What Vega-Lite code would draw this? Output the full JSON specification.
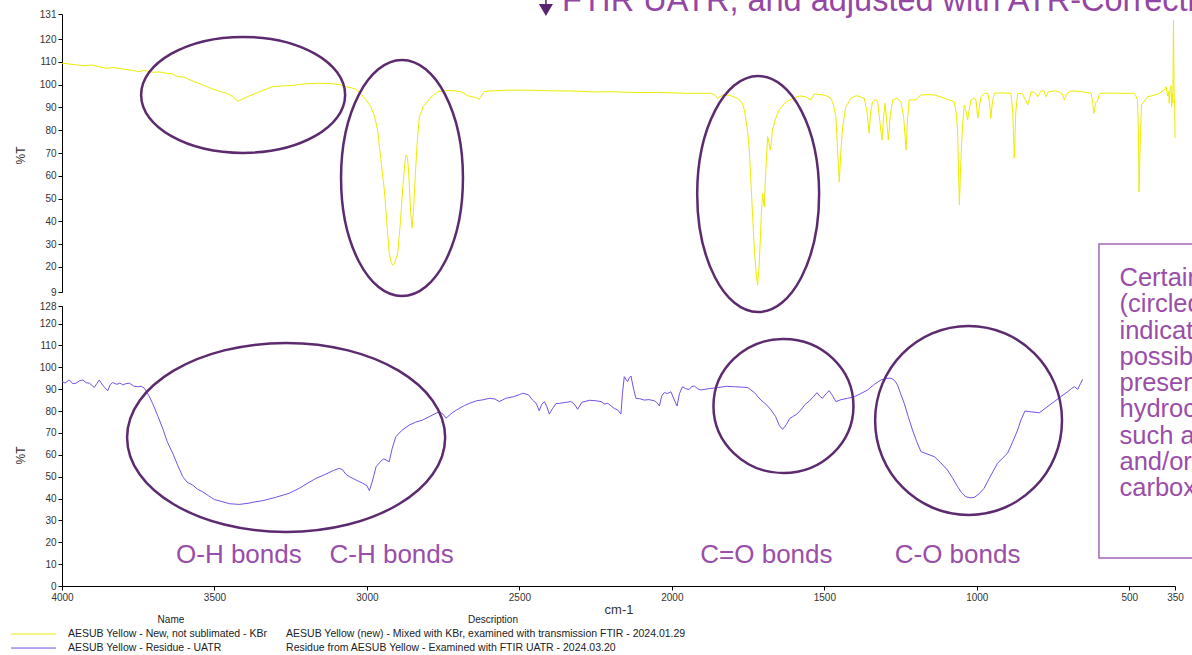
{
  "$schema": "https://vega.github.io/schema/vega-lite/v6.json",
  "padding": {"left": 10, "top": -31, "right": 0, "bottom": 0},
  "bounds": "flush",
  "spacing": 14,
  "config": {
    "font": "Liberation Sans",
    "view": {"stroke": null},
    "axis": {"domainColor": "#000", "tickColor": "#000", "labelColor": "#333", "labelFontSize": 10, "titleColor": "#333", "titleFontWeight": "normal", "grid": false, "tickSize": 4, "labelPadding": 2, "labelOverlap": false}
  },
  "datasets": {
    "spectra": [
      {"series":"new","wn":4000,"T":109.4},{"series":"new","wn":3960,"T":108.8},{"series":"new","wn":3930,"T":108.3},{"series":"new","wn":3900,"T":108.6},{"series":"new","wn":3870,"T":107.6},{"series":"new","wn":3856,"T":107.2},{"series":"new","wn":3830,"T":107.5},{"series":"new","wn":3800,"T":106.8},{"series":"new","wn":3770,"T":106.3},{"series":"new","wn":3748,"T":105.7},{"series":"new","wn":3730,"T":106.2},{"series":"new","wn":3700,"T":105.4},{"series":"new","wn":3680,"T":105.6},{"series":"new","wn":3659,"T":105.0},{"series":"new","wn":3640,"T":104.8},{"series":"new","wn":3620,"T":103.5},{"series":"new","wn":3600,"T":103.3},{"series":"new","wn":3584,"T":102.3},{"series":"new","wn":3560,"T":101.0},{"series":"new","wn":3540,"T":100.0},{"series":"new","wn":3520,"T":98.8},{"series":"new","wn":3505,"T":98.0},{"series":"new","wn":3480,"T":97.0},{"series":"new","wn":3460,"T":96.2},{"series":"new","wn":3440,"T":94.8},{"series":"new","wn":3424,"T":92.8},{"series":"new","wn":3410,"T":93.5},{"series":"new","wn":3390,"T":94.8},{"series":"new","wn":3364,"T":96.2},{"series":"new","wn":3340,"T":97.5},{"series":"new","wn":3309,"T":99.1},{"series":"new","wn":3280,"T":99.4},{"series":"new","wn":3250,"T":99.6},{"series":"new","wn":3200,"T":100.4},{"series":"new","wn":3157,"T":100.6},{"series":"new","wn":3120,"T":100.5},{"series":"new","wn":3090,"T":100.0},{"series":"new","wn":3069,"T":99.1},{"series":"new","wn":3040,"T":98.2},{"series":"new","wn":3026,"T":96.9},{"series":"new","wn":3005,"T":93.5},{"series":"new","wn":2987,"T":90.3},{"series":"new","wn":2975,"T":86},{"series":"new","wn":2965,"T":80.1},{"series":"new","wn":2955,"T":68},{"series":"new","wn":2943,"T":53.8},{"series":"new","wn":2935,"T":40},{"series":"new","wn":2927,"T":26},{"series":"new","wn":2920,"T":22},{"series":"new","wn":2916,"T":20.8},{"series":"new","wn":2910,"T":21.5},{"series":"new","wn":2899,"T":26},{"series":"new","wn":2890,"T":40},{"series":"new","wn":2883,"T":53.8},{"series":"new","wn":2876,"T":65},{"series":"new","wn":2872,"T":69.1},{"series":"new","wn":2867,"T":68},{"series":"new","wn":2863,"T":61.2},{"series":"new","wn":2857,"T":45},{"series":"new","wn":2852,"T":37},{"series":"new","wn":2847,"T":45},{"series":"new","wn":2841,"T":61.1},{"series":"new","wn":2835,"T":75},{"series":"new","wn":2828,"T":85.9},{"series":"new","wn":2815,"T":90.5},{"series":"new","wn":2806,"T":91.8},{"series":"new","wn":2790,"T":94.5},{"series":"new","wn":2774,"T":96.2},{"series":"new","wn":2768,"T":96.9},{"series":"new","wn":2740,"T":97.4},{"series":"new","wn":2714,"T":97.3},{"series":"new","wn":2690,"T":96.8},{"series":"new","wn":2670,"T":95.2},{"series":"new","wn":2659,"T":94.7},{"series":"new","wn":2645,"T":94.5},{"series":"new","wn":2632,"T":93.6},{"series":"new","wn":2616,"T":96.9},{"series":"new","wn":2600,"T":97.2},{"series":"new","wn":2528,"T":97.6},{"series":"new","wn":2450,"T":97.5},{"series":"new","wn":2400,"T":97.3},{"series":"new","wn":2331,"T":97.2},{"series":"new","wn":2250,"T":96.8},{"series":"new","wn":2200,"T":96.9},{"series":"new","wn":2112,"T":96.5},{"series":"new","wn":2050,"T":96.6},{"series":"new","wn":1950,"T":96.2},{"series":"new","wn":1872,"T":96.2},{"series":"new","wn":1860,"T":95.5},{"series":"new","wn":1850,"T":94.0},{"series":"new","wn":1833,"T":95.5},{"series":"new","wn":1810,"T":95.3},{"series":"new","wn":1784,"T":94.0},{"series":"new","wn":1770,"T":92},{"series":"new","wn":1762,"T":88.9},{"series":"new","wn":1752,"T":80},{"series":"new","wn":1746,"T":71.3},{"series":"new","wn":1738,"T":50},{"series":"new","wn":1730,"T":28.9},{"series":"new","wn":1724,"T":18},{"series":"new","wn":1719,"T":12},{"series":"new","wn":1714,"T":20},{"series":"new","wn":1710,"T":31.8},{"series":"new","wn":1706,"T":45},{"series":"new","wn":1702,"T":52.3},{"series":"new","wn":1697,"T":46.4},{"series":"new","wn":1692,"T":62},{"series":"new","wn":1686,"T":77.2},{"series":"new","wn":1681,"T":74},{"series":"new","wn":1677,"T":71.3},{"series":"new","wn":1673,"T":76},{"series":"new","wn":1670,"T":80.1},{"series":"new","wn":1660,"T":85},{"series":"new","wn":1648,"T":88.9},{"series":"new","wn":1630,"T":92},{"series":"new","wn":1609,"T":93.6},{"series":"new","wn":1590,"T":94.8},{"series":"new","wn":1577,"T":95.0},{"series":"new","wn":1560,"T":94.6},{"series":"new","wn":1544,"T":93.3},{"series":"new","wn":1533,"T":95.9},{"series":"new","wn":1510,"T":95.6},{"series":"new","wn":1495,"T":95.2},{"series":"new","wn":1478,"T":94.0},{"series":"new","wn":1470,"T":91},{"series":"new","wn":1462,"T":85.9},{"series":"new","wn":1456,"T":70},{"series":"new","wn":1451,"T":57.4},{"series":"new","wn":1446,"T":70},{"series":"new","wn":1440,"T":81.5},{"series":"new","wn":1430,"T":90},{"series":"new","wn":1413,"T":94.0},{"series":"new","wn":1395,"T":95.2},{"series":"new","wn":1380,"T":94.5},{"series":"new","wn":1369,"T":94.0},{"series":"new","wn":1360,"T":88},{"series":"new","wn":1353,"T":78.6},{"series":"new","wn":1348,"T":88},{"series":"new","wn":1342,"T":92.5},{"series":"new","wn":1330,"T":93.5},{"series":"new","wn":1325,"T":92.5},{"series":"new","wn":1318,"T":84},{"series":"new","wn":1311,"T":75.7},{"series":"new","wn":1306,"T":85},{"series":"new","wn":1301,"T":91.8},{"series":"new","wn":1296,"T":85},{"series":"new","wn":1290,"T":75.7},{"series":"new","wn":1284,"T":86},{"series":"new","wn":1276,"T":93.3},{"series":"new","wn":1262,"T":94.0},{"series":"new","wn":1249,"T":92.5},{"series":"new","wn":1240,"T":86},{"series":"new","wn":1232,"T":71.3},{"series":"new","wn":1227,"T":85},{"series":"new","wn":1222,"T":93.3},{"series":"new","wn":1200,"T":93.3},{"series":"new","wn":1183,"T":95.5},{"series":"new","wn":1160,"T":95.6},{"series":"new","wn":1139,"T":95.5},{"series":"new","wn":1110,"T":94.2},{"series":"new","wn":1090,"T":93.2},{"series":"new","wn":1074,"T":92.5},{"series":"new","wn":1068,"T":88},{"series":"new","wn":1063,"T":80.1},{"series":"new","wn":1060,"T":62},{"series":"new","wn":1057,"T":47.2},{"series":"new","wn":1054,"T":60},{"series":"new","wn":1050,"T":74.3},{"series":"new","wn":1045,"T":85},{"series":"new","wn":1041,"T":91.1},{"series":"new","wn":1035,"T":88},{"series":"new","wn":1030,"T":84.5},{"series":"new","wn":1025,"T":89},{"series":"new","wn":1019,"T":93.3},{"series":"new","wn":1010,"T":94.0},{"series":"new","wn":1003,"T":93.5},{"series":"new","wn":999,"T":88},{"series":"new","wn":997,"T":85.2},{"series":"new","wn":993,"T":89},{"series":"new","wn":986,"T":94.7},{"series":"new","wn":975,"T":96.2},{"series":"new","wn":964,"T":96.2},{"series":"new","wn":958,"T":92},{"series":"new","wn":954,"T":85.2},{"series":"new","wn":949,"T":92},{"series":"new","wn":943,"T":96.2},{"series":"new","wn":920,"T":96.4},{"series":"new","wn":888,"T":96.2},{"series":"new","wn":882,"T":88},{"series":"new","wn":877,"T":67.7},{"series":"new","wn":872,"T":88},{"series":"new","wn":866,"T":96.2},{"series":"new","wn":850,"T":96.0},{"series":"new","wn":840,"T":93},{"series":"new","wn":833,"T":91.1},{"series":"new","wn":827,"T":94},{"series":"new","wn":822,"T":96.9},{"series":"new","wn":810,"T":96.5},{"series":"new","wn":800,"T":94.7},{"series":"new","wn":795,"T":96},{"series":"new","wn":789,"T":97.3},{"series":"new","wn":780,"T":97.2},{"series":"new","wn":773,"T":94.7},{"series":"new","wn":765,"T":96.8},{"series":"new","wn":746,"T":97.3},{"series":"new","wn":730,"T":96.8},{"series":"new","wn":720,"T":96.0},{"series":"new","wn":713,"T":93.3},{"series":"new","wn":705,"T":96},{"series":"new","wn":691,"T":97.3},{"series":"new","wn":660,"T":97.0},{"series":"new","wn":625,"T":96.2},{"series":"new","wn":620,"T":92},{"series":"new","wn":616,"T":87.4},{"series":"new","wn":610,"T":92},{"series":"new","wn":603,"T":93.3},{"series":"new","wn":598,"T":95.8},{"series":"new","wn":593,"T":96.2},{"series":"new","wn":560,"T":96.3},{"series":"new","wn":520,"T":96.2},{"series":"new","wn":484,"T":96.2},{"series":"new","wn":478,"T":95},{"series":"new","wn":473,"T":93.3},{"series":"new","wn":470,"T":80},{"series":"new","wn":468,"T":53},{"series":"new","wn":465,"T":70},{"series":"new","wn":460,"T":91.1},{"series":"new","wn":450,"T":92.8},{"series":"new","wn":440,"T":94.7},{"series":"new","wn":420,"T":95.3},{"series":"new","wn":400,"T":96.2},{"series":"new","wn":396,"T":96.9},{"series":"new","wn":385,"T":97.6},{"series":"new","wn":379,"T":99.1},{"series":"new","wn":374,"T":95},{"series":"new","wn":371,"T":97},{"series":"new","wn":369,"T":91.8},{"series":"new","wn":366,"T":98},{"series":"new","wn":363,"T":99.5},{"series":"new","wn":361,"T":90.3},{"series":"new","wn":359,"T":96},{"series":"new","wn":357,"T":92},{"series":"new","wn":355,"T":128.4},{"series":"new","wn":353,"T":96},{"series":"new","wn":351,"T":90},{"series":"new","wn":350,"T":76.6},
      {"series":"residue","wn":4000,"T":93.4},{"series":"residue","wn":3990,"T":92.8},{"series":"residue","wn":3976,"T":94.2},{"series":"residue","wn":3965,"T":92.5},{"series":"residue","wn":3954,"T":92.7},{"series":"residue","wn":3943,"T":93.8},{"series":"residue","wn":3932,"T":94.2},{"series":"residue","wn":3920,"T":92.9},{"series":"residue","wn":3910,"T":92.7},{"series":"residue","wn":3900,"T":91.5},{"series":"residue","wn":3894,"T":90.8},{"series":"residue","wn":3886,"T":92.5},{"series":"residue","wn":3878,"T":94.2},{"series":"residue","wn":3865,"T":91.5},{"series":"residue","wn":3850,"T":89.3},{"series":"residue","wn":3842,"T":92.0},{"series":"residue","wn":3834,"T":93.0},{"series":"residue","wn":3820,"T":92.2},{"series":"residue","wn":3810,"T":92.8},{"series":"residue","wn":3801,"T":91.9},{"series":"residue","wn":3790,"T":92.5},{"series":"residue","wn":3779,"T":92.7},{"series":"residue","wn":3765,"T":91.4},{"series":"residue","wn":3752,"T":91.1},{"series":"residue","wn":3740,"T":91.3},{"series":"residue","wn":3730,"T":90.4},{"series":"residue","wn":3715,"T":87},{"series":"residue","wn":3703,"T":83.5},{"series":"residue","wn":3685,"T":77.5},{"series":"residue","wn":3670,"T":72.1},{"series":"residue","wn":3655,"T":66},{"series":"residue","wn":3637,"T":60.7},{"series":"residue","wn":3620,"T":55},{"series":"residue","wn":3604,"T":50},{"series":"residue","wn":3590,"T":47.5},{"series":"residue","wn":3570,"T":46},{"series":"residue","wn":3555,"T":44.2},{"series":"residue","wn":3539,"T":43.1},{"series":"residue","wn":3520,"T":41.3},{"series":"residue","wn":3500,"T":39.5},{"series":"residue","wn":3473,"T":38.5},{"series":"residue","wn":3450,"T":37.6},{"series":"residue","wn":3419,"T":37.3},{"series":"residue","wn":3390,"T":37.8},{"series":"residue","wn":3370,"T":38.4},{"series":"residue","wn":3342,"T":39.0},{"series":"residue","wn":3300,"T":40.5},{"series":"residue","wn":3255,"T":42.4},{"series":"residue","wn":3220,"T":44.8},{"series":"residue","wn":3190,"T":47.4},{"series":"residue","wn":3167,"T":49.2},{"series":"residue","wn":3140,"T":50.8},{"series":"residue","wn":3110,"T":52.8},{"series":"residue","wn":3091,"T":53.8},{"series":"residue","wn":3080,"T":53.2},{"series":"residue","wn":3070,"T":51.2},{"series":"residue","wn":3058,"T":50.0},{"series":"residue","wn":3035,"T":48.4},{"series":"residue","wn":3014,"T":47.0},{"series":"residue","wn":3000,"T":45.8},{"series":"residue","wn":2992,"T":43.6},{"series":"residue","wn":2983,"T":47.5},{"series":"residue","wn":2970,"T":54.5},{"series":"residue","wn":2955,"T":57.0},{"series":"residue","wn":2945,"T":58.1},{"series":"residue","wn":2937,"T":57.6},{"series":"residue","wn":2927,"T":56.8},{"series":"residue","wn":2917,"T":63},{"series":"residue","wn":2905,"T":68.3},{"series":"residue","wn":2885,"T":71.2},{"series":"residue","wn":2861,"T":73.6},{"series":"residue","wn":2840,"T":74.9},{"series":"residue","wn":2817,"T":75.9},{"series":"residue","wn":2790,"T":77.8},{"series":"residue","wn":2763,"T":79.7},{"series":"residue","wn":2750,"T":78.5},{"series":"residue","wn":2741,"T":76.7},{"series":"residue","wn":2720,"T":79.2},{"series":"residue","wn":2700,"T":81},{"series":"residue","wn":2680,"T":82.5},{"series":"residue","wn":2664,"T":83.5},{"series":"residue","wn":2640,"T":84.7},{"series":"residue","wn":2620,"T":85.1},{"series":"residue","wn":2599,"T":85.8},{"series":"residue","wn":2580,"T":85.5},{"series":"residue","wn":2566,"T":84.3},{"series":"residue","wn":2545,"T":85.8},{"series":"residue","wn":2520,"T":86.5},{"series":"residue","wn":2500,"T":87.5},{"series":"residue","wn":2489,"T":88.1},{"series":"residue","wn":2470,"T":87.4},{"series":"residue","wn":2457,"T":85.0},{"series":"residue","wn":2445,"T":83.5},{"series":"residue","wn":2435,"T":80.1},{"series":"residue","wn":2427,"T":83},{"series":"residue","wn":2418,"T":84.3},{"series":"residue","wn":2410,"T":82},{"series":"residue","wn":2402,"T":78.6},{"series":"residue","wn":2392,"T":81},{"series":"residue","wn":2380,"T":83.4},{"series":"residue","wn":2369,"T":83.5},{"series":"residue","wn":2350,"T":83.9},{"series":"residue","wn":2331,"T":84.3},{"series":"residue","wn":2320,"T":83.2},{"series":"residue","wn":2309,"T":80.8},{"series":"residue","wn":2295,"T":84},{"series":"residue","wn":2270,"T":84.9},{"series":"residue","wn":2250,"T":84.7},{"series":"residue","wn":2232,"T":84.3},{"series":"residue","wn":2221,"T":83.2},{"series":"residue","wn":2210,"T":83.5},{"series":"residue","wn":2200,"T":82.4},{"series":"residue","wn":2189,"T":81.2},{"series":"residue","wn":2178,"T":80.5},{"series":"residue","wn":2167,"T":78.6},{"series":"residue","wn":2162,"T":88},{"series":"residue","wn":2156,"T":95.7},{"series":"residue","wn":2150,"T":94.3},{"series":"residue","wn":2145,"T":93.4},{"series":"residue","wn":2140,"T":95.2},{"series":"residue","wn":2134,"T":96.0},{"series":"residue","wn":2127,"T":91},{"series":"residue","wn":2118,"T":85.8},{"series":"residue","wn":2105,"T":85.6},{"series":"residue","wn":2091,"T":85.0},{"series":"residue","wn":2075,"T":85.2},{"series":"residue","wn":2058,"T":84.7},{"series":"residue","wn":2050,"T":84},{"series":"residue","wn":2041,"T":82.3},{"series":"residue","wn":2033,"T":87},{"series":"residue","wn":2025,"T":88.4},{"series":"residue","wn":2014,"T":88.0},{"series":"residue","wn":2003,"T":88.8},{"series":"residue","wn":1995,"T":86},{"series":"residue","wn":1983,"T":82.3},{"series":"residue","wn":1975,"T":88},{"series":"residue","wn":1965,"T":91.1},{"series":"residue","wn":1955,"T":90.2},{"series":"residue","wn":1943,"T":89.9},{"series":"residue","wn":1935,"T":91.2},{"series":"residue","wn":1926,"T":91.4},{"series":"residue","wn":1915,"T":90.1},{"series":"residue","wn":1904,"T":89.6},{"series":"residue","wn":1880,"T":90.2},{"series":"residue","wn":1850,"T":90.7},{"series":"residue","wn":1820,"T":91.3},{"series":"residue","wn":1795,"T":91.1},{"series":"residue","wn":1770,"T":90.9},{"series":"residue","wn":1751,"T":90.7},{"series":"residue","wn":1730,"T":88.5},{"series":"residue","wn":1708,"T":85.0},{"series":"residue","wn":1690,"T":82.9},{"series":"residue","wn":1675,"T":80.5},{"series":"residue","wn":1660,"T":77.5},{"series":"residue","wn":1648,"T":73.5},{"series":"residue","wn":1637,"T":71.6},{"series":"residue","wn":1625,"T":73.7},{"series":"residue","wn":1614,"T":76.5},{"series":"residue","wn":1604,"T":77.4},{"series":"residue","wn":1590,"T":78.6},{"series":"residue","wn":1577,"T":80.5},{"series":"residue","wn":1563,"T":83},{"series":"residue","wn":1549,"T":84.6},{"series":"residue","wn":1536,"T":86.5},{"series":"residue","wn":1524,"T":88.4},{"series":"residue","wn":1515,"T":86.8},{"series":"residue","wn":1506,"T":85.8},{"series":"residue","wn":1495,"T":87.8},{"series":"residue","wn":1484,"T":89.3},{"series":"residue","wn":1473,"T":87},{"series":"residue","wn":1462,"T":84.3},{"series":"residue","wn":1445,"T":85.2},{"series":"residue","wn":1424,"T":85.8},{"series":"residue","wn":1402,"T":86.5},{"series":"residue","wn":1380,"T":88},{"series":"residue","wn":1358,"T":89.6},{"series":"residue","wn":1336,"T":92.2},{"series":"residue","wn":1314,"T":94.2},{"series":"residue","wn":1295,"T":94.9},{"series":"residue","wn":1281,"T":95.0},{"series":"residue","wn":1270,"T":94},{"series":"residue","wn":1260,"T":91.9},{"series":"residue","wn":1250,"T":88},{"series":"residue","wn":1238,"T":83.5},{"series":"residue","wn":1225,"T":77.5},{"series":"residue","wn":1211,"T":71.3},{"series":"residue","wn":1197,"T":66},{"series":"residue","wn":1183,"T":61.4},{"series":"residue","wn":1160,"T":60.2},{"series":"residue","wn":1139,"T":59.1},{"series":"residue","wn":1118,"T":56.3},{"series":"residue","wn":1096,"T":53.0},{"series":"residue","wn":1080,"T":49.5},{"series":"residue","wn":1063,"T":45.4},{"series":"residue","wn":1050,"T":42.7},{"series":"residue","wn":1036,"T":40.8},{"series":"residue","wn":1020,"T":40.3},{"series":"residue","wn":1008,"T":40.5},{"series":"residue","wn":992,"T":42.2},{"series":"residue","wn":976,"T":44.7},{"series":"residue","wn":955,"T":50.3},{"series":"residue","wn":932,"T":56.1},{"series":"residue","wn":915,"T":58.5},{"series":"residue","wn":899,"T":60.7},{"series":"residue","wn":882,"T":66},{"series":"residue","wn":866,"T":71.3},{"series":"residue","wn":855,"T":76},{"series":"residue","wn":842,"T":80.0},{"series":"residue","wn":820,"T":79.6},{"series":"residue","wn":795,"T":79.2},{"series":"residue","wn":770,"T":81.8},{"series":"residue","wn":746,"T":84.3},{"series":"residue","wn":725,"T":86.5},{"series":"residue","wn":702,"T":88.8},{"series":"residue","wn":690,"T":90.2},{"series":"residue","wn":680,"T":91.1},{"series":"residue","wn":669,"T":89.9},{"series":"residue","wn":660,"T":92.5},{"series":"residue","wn":653,"T":94.5}
    ],
    "rings": [
      {"panel":"top","ring":"OH-top","wn":3406,"T":95.5},
      {"panel":"top","ring":"CH-top","wn":2885,"T":59.0},
      {"panel":"top","ring":"CO-top","wn":1717,"T":52.0},
      {"panel":"bottom","ring":"OH-bottom","wn":3265,"T":67.9},
      {"panel":"bottom","ring":"CdO-bottom","wn":1634,"T":82.3},
      {"panel":"bottom","ring":"CO-bottom","wn":1027,"T":75.7}
    ],
    "bondLabels": [
      {"label":"O-H bonds","wn":3420,"T":14.2},
      {"label":"C-H bonds","wn":2919,"T":14.2},
      {"label":"C=O bonds","wn":1690,"T":14.2},
      {"label":"C-O bonds","wn":1063,"T":14.2}
    ],
    "header": [{"text":"FTIR UATR, and adjusted with ATR-Correction","wn":2360,"T":132.3}],
    "arrow": [{"wn":2413,"T":132.76,"T2":150.3}],
    "noteBox": [{"wn":599.3,"wn2":250,"T":156.3,"T2":12.8}],
    "noteText": [{"text":"Certain peaks\n(circled)\nindicate the\npossible\npresence of\nhydrocarbons\nsuch as esters\nand/or\ncarboxylic acids","wn":532,"T":137.1}],
    "legendRows": [
      {"series":"new","row":1,"name":"AESUB Yellow - New, not sublimated - KBr","description":"AESUB Yellow (new) - Mixed with KBr, examined with transmission FTIR - 2024.01.29"},
      {"series":"residue","row":2,"name":"AESUB Yellow - Residue - UATR","description":"Residue from AESUB Yellow - Examined with FTIR UATR - 2024.03.20"}
    ],
    "legendHeadings": [{"heading":"Name","row":0},{"heading":"Description","row":0}]
  },
  "vconcat": [
    {
      "width": 1113,
      "height": 278,
      "encoding": {
        "x": {"field":"wn","type":"quantitative","scale":{"domain":[4000,350],"nice":false,"zero":false},"axis":null},
        "y": {"field":"T","type":"quantitative","scale":{"domain":[9,131],"nice":false,"zero":false},"axis":{"values":[9,20,30,40,50,60,70,80,90,100,110,120,131],"title":"%T","titleFontSize":12,"titleX":-35,"titleY":141}}
      },
      "layer": [
        {"data":{"name":"spectra"},"transform":[{"filter":"datum.series === 'new'"}],"mark":{"type":"line","strokeWidth":1},
         "encoding":{"color":{"field":"series","type":"nominal","scale":{"domain":["new","residue"],"range":["#ECEC00","#7650E8"]},"legend":null}}},
        {"data":{"name":"rings"},"transform":[{"filter":"datum.panel === 'top'"}],"mark":{"type":"point","filled":false,"size":102400,"strokeWidth":2.5,"color":"#5C2A6E","opacity":1},
         "encoding":{"shape":{"field":"ring","type":"nominal","legend":null,"scale":{"domain":["OH-top","CH-top","CO-top","OH-bottom","CdO-bottom","CO-bottom"],"range":[
           "M 0.6375 0 C 0.6375 0.2002 0.3521 0.3625 0 0.3625 C -0.3521 0.3625 -0.6375 0.2002 -0.6375 0 C -0.6375 -0.2002 -0.3521 -0.3625 0 -0.3625 C 0.3521 -0.3625 0.6375 -0.2002 0.6375 0 Z",
           "M 0.381 0 C 0.381 0.4073 0.2104 0.7375 0 0.7375 C -0.2104 0.7375 -0.381 0.4073 -0.381 0 C -0.381 -0.4073 -0.2104 -0.7375 0 -0.7375 C 0.2104 -0.7375 0.381 -0.4073 0.381 0 Z",
           "M 0.381 0 C 0.381 0.4073 0.2104 0.7375 0 0.7375 C -0.2104 0.7375 -0.381 0.4073 -0.381 0 C -0.381 -0.4073 -0.2104 -0.7375 0 -0.7375 C 0.2104 -0.7375 0.381 -0.4073 0.381 0 Z",
           "M 0.994 0 C 0.994 0.3262 0.549 0.5906 0 0.5906 C -0.549 0.5906 -0.994 0.3262 -0.994 0 C -0.994 -0.3262 -0.549 -0.5906 0 -0.5906 C 0.549 -0.5906 0.994 -0.3262 0.994 0 Z",
           "M 0.4375 0 C 0.4375 0.2313 0.2416 0.4188 0 0.4188 C -0.2416 0.4188 -0.4375 0.2313 -0.4375 0 C -0.4375 -0.2313 -0.2416 -0.4188 0 -0.4188 C 0.2416 -0.4188 0.4375 -0.2313 0.4375 0 Z",
           "M 0.584 0 C 0.584 0.3262 0.3225 0.5906 0 0.5906 C -0.3225 0.5906 -0.584 0.3262 -0.584 0 C -0.584 -0.3262 -0.3225 -0.5906 0 -0.5906 C 0.3225 -0.5906 0.584 -0.3262 0.584 0 Z"]}}}},
        {"data":{"name":"header"},"mark":{"type":"text","align":"left","baseline":"alphabetic","fontSize":32.5,"color":"#9446A4"},"encoding":{"text":{"field":"text"}}},
        {"data":{"name":"arrow"},"mark":{"type":"rule","color":"#5A2470","strokeWidth":1.5},"encoding":{"y2":{"field":"T2"}}},
        {"data":{"name":"arrow"},"mark":{"type":"point","shape":"triangle-down","filled":true,"size":196,"color":"#5A2470","opacity":1}}
      ]
    },
    {
      "width": 1113,
      "height": 280,
      "encoding": {
        "x": {"field":"wn","type":"quantitative","scale":{"domain":[4000,350],"nice":false,"zero":false},"axis":{"values":[4000,3500,3000,2500,2000,1500,1000,500,350],"format":"d","title":"cm-1","titleFontSize":13,"titlePadding":1,"labelFlush":false}},
        "y": {"field":"T","type":"quantitative","scale":{"domain":[0,128],"nice":false,"zero":false},"axis":{"values":[0,10,20,30,40,50,60,70,80,90,100,110,120,128],"title":"%T","titleFontSize":12,"titleX":-35,"titleY":149}}
      },
      "layer": [
        {"data":{"name":"spectra"},"transform":[{"filter":"datum.series === 'residue'"}],"mark":{"type":"line","strokeWidth":1},
         "encoding":{"color":{"field":"series","type":"nominal","scale":{"domain":["new","residue"],"range":["#ECEC00","#7650E8"]},"legend":null}}},
        {"data":{"name":"rings"},"transform":[{"filter":"datum.panel === 'bottom'"}],"mark":{"type":"point","filled":false,"size":102400,"strokeWidth":2.5,"color":"#5C2A6E","opacity":1},
         "encoding":{"shape":{"field":"ring","type":"nominal","legend":null,"scale":{"domain":["OH-top","CH-top","CO-top","OH-bottom","CdO-bottom","CO-bottom"],"range":[
           "M 0.6375 0 C 0.6375 0.2002 0.3521 0.3625 0 0.3625 C -0.3521 0.3625 -0.6375 0.2002 -0.6375 0 C -0.6375 -0.2002 -0.3521 -0.3625 0 -0.3625 C 0.3521 -0.3625 0.6375 -0.2002 0.6375 0 Z",
           "M 0.381 0 C 0.381 0.4073 0.2104 0.7375 0 0.7375 C -0.2104 0.7375 -0.381 0.4073 -0.381 0 C -0.381 -0.4073 -0.2104 -0.7375 0 -0.7375 C 0.2104 -0.7375 0.381 -0.4073 0.381 0 Z",
           "M 0.381 0 C 0.381 0.4073 0.2104 0.7375 0 0.7375 C -0.2104 0.7375 -0.381 0.4073 -0.381 0 C -0.381 -0.4073 -0.2104 -0.7375 0 -0.7375 C 0.2104 -0.7375 0.381 -0.4073 0.381 0 Z",
           "M 0.994 0 C 0.994 0.3262 0.549 0.5906 0 0.5906 C -0.549 0.5906 -0.994 0.3262 -0.994 0 C -0.994 -0.3262 -0.549 -0.5906 0 -0.5906 C 0.549 -0.5906 0.994 -0.3262 0.994 0 Z",
           "M 0.4375 0 C 0.4375 0.2313 0.2416 0.4188 0 0.4188 C -0.2416 0.4188 -0.4375 0.2313 -0.4375 0 C -0.4375 -0.2313 -0.2416 -0.4188 0 -0.4188 C 0.2416 -0.4188 0.4375 -0.2313 0.4375 0 Z",
           "M 0.584 0 C 0.584 0.3262 0.3225 0.5906 0 0.5906 C -0.3225 0.5906 -0.584 0.3262 -0.584 0 C -0.584 -0.3262 -0.3225 -0.5906 0 -0.5906 C 0.3225 -0.5906 0.584 -0.3262 0.584 0 Z"]}}}},
        {"data":{"name":"bondLabels"},"mark":{"type":"text","align":"center","baseline":"middle","fontSize":26,"color":"#9A4DAA"},"encoding":{"text":{"field":"label"}}},
        {"data":{"name":"noteBox"},"mark":{"type":"rect","filled":false,"color":"#A466B4","strokeWidth":1.5},"encoding":{"x2":{"field":"wn2"},"y2":{"field":"T2"}}},
        {"data":{"name":"noteText"},"mark":{"type":"text","align":"left","baseline":"alphabetic","fontSize":25.5,"lineHeight":26.25,"lineBreak":"\n","color":"#9A4DAA"},"encoding":{"text":{"field":"text"}}}
      ]
    },
    {
      "width": 1113,
      "height": 50,
      "layer": [
        {"data":{"name":"legendRows"},"mark":{"type":"rule","strokeWidth":1},
         "encoding":{
           "x":{"datum":-4.58,"type":"quantitative","scale":{"domain":[0,100],"nice":false,"zero":false},"axis":null},
           "x2":{"datum":-0.54},
           "y":{"field":"row","type":"quantitative","scale":{"domain":[-1.43,2.14],"reverse":true,"nice":false,"zero":false},"axis":null},
           "color":{"field":"series","type":"nominal","scale":{"domain":["new","residue"],"range":["#ECEC00","#7650E8"]},"legend":null}}},
        {"data":{"name":"legendRows"},"mark":{"type":"text","align":"left","baseline":"middle","fontSize":10.5,"color":"#222"},
         "encoding":{"x":{"datum":0.54,"type":"quantitative"},"y":{"field":"row","type":"quantitative"},"text":{"field":"name"}}},
        {"data":{"name":"legendRows"},"mark":{"type":"text","align":"left","baseline":"middle","fontSize":10.5,"color":"#222"},
         "encoding":{"x":{"datum":20.13,"type":"quantitative"},"y":{"field":"row","type":"quantitative"},"text":{"field":"description"}}},
        {"data":{"name":"legendHeadings"},"transform":[{"filter":"datum.heading === 'Name'"}],"mark":{"type":"text","align":"center","baseline":"middle","fontSize":10,"color":"#222"},
         "encoding":{"x":{"datum":9.79,"type":"quantitative"},"y":{"field":"row","type":"quantitative"},"text":{"field":"heading"}}},
        {"data":{"name":"legendHeadings"},"transform":[{"filter":"datum.heading === 'Description'"}],"mark":{"type":"text","align":"center","baseline":"middle","fontSize":10,"color":"#222"},
         "encoding":{"x":{"datum":38.72,"type":"quantitative"},"y":{"field":"row","type":"quantitative"},"text":{"field":"heading"}}}
      ]
    }
  ]
}
